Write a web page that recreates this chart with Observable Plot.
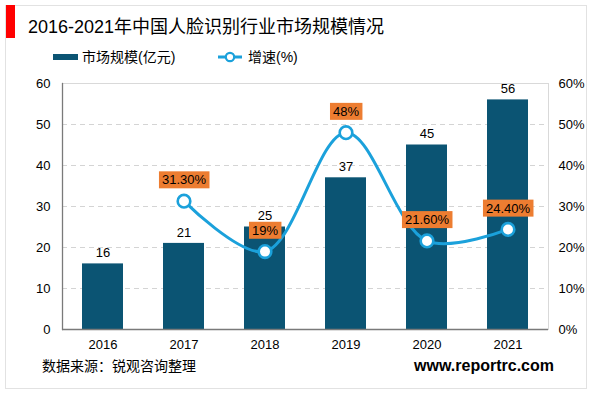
<!DOCTYPE html>
<html><head><meta charset="utf-8">
<script src="https://cdn.jsdelivr.net/npm/d3@7"></script>
<script src="https://cdn.jsdelivr.net/npm/@observablehq/plot@0.6"></script>
<style>
body{margin:0;background:#fff;font-family:"Liberation Sans","Noto Sans CJK SC",sans-serif;}
#wrap{position:relative;width:600px;height:393px;overflow:hidden;background:#fff;}
#frame{position:absolute;left:5px;top:5px;width:582px;height:384px;border:1px solid #e2e2e2;box-sizing:border-box;}
#redbar{position:absolute;left:6px;top:5px;width:9px;height:33px;background:#ff0000;}
#title{position:absolute;left:28px;top:15px;font-size:18px;line-height:24px;color:#000;white-space:nowrap;}
.leg{position:absolute;top:48px;font-size:14px;line-height:18px;color:#000;white-space:nowrap;}
#chart{position:absolute;left:0;top:0;}
#src{position:absolute;left:42px;top:356px;font-size:14px;line-height:20px;color:#000;}
#url{position:absolute;right:46px;top:355px;font-size:16px;line-height:21px;font-weight:bold;color:#000;}
</style></head>
<body>
<div id="wrap">
  <div id="frame"></div>
  <div id="redbar"></div>
  <div id="title"></div>
  <div id="chart"></div>
  <div class="leg" id="leg1" style="left:53px;"></div>
  <div class="leg" id="leg2" style="left:217px;"></div>
  <div id="src"></div>
  <div id="url"></div>
</div>
<script>
const titleText = "2016-2021年中国人脸识别行业市场规模情况";
const years = ["2016", "2017", "2018", "2019", "2020", "2021"];
const marketSize = [16, 21, 25, 37, 45, 56];
const growthYears = ["2017", "2018", "2019", "2020", "2021"];
const growthPct = [31.3, 19, 48, 21.6, 24.4];
const growthLabels = ["31.30%", "19%", "48%", "21.60%", "24.40%"];
const seriesNames = ["市场规模(亿元)", "增速(%)"];
const yTicks = [0, 10, 20, 30, 40, 50, 60];
const sourceText = "数据来源：锐观咨询整理";
const urlText = "www.reportrc.com";

const barColor = "#0B5473";
const lineColor = "#1BA1DB";
const labelBg = "#ED7D31";

document.getElementById("title").textContent = titleText;
document.getElementById("src").textContent = sourceText;
document.getElementById("url").textContent = urlText;
document.getElementById("leg1").innerHTML =
  `<span style="display:inline-block;width:25px;height:6px;background:${barColor};vertical-align:middle;margin-right:4px;position:relative;top:-1px"></span>${seriesNames[0]}`;
document.getElementById("leg2").innerHTML =
  `<svg width="26" height="12" style="vertical-align:middle;margin-right:5px;position:relative;top:-1px"><line x1="1" y1="6" x2="25" y2="6" stroke="${lineColor}" stroke-width="3"/><circle cx="13" cy="6" r="4.2" fill="#fff" stroke="${lineColor}" stroke-width="2.2"/></svg>${seriesNames[1]}`;

const bars = years.map((y, i) => ({year: y, value: marketSize[i]}));
const growth = growthYears.map((y, i) => ({year: y, pct: growthPct[i], label: growthLabels[i]}));

const chart = Plot.plot({
  width: 600,
  height: 360,
  marginTop: 83,
  marginBottom: 31,
  marginLeft: 62,
  marginRight: 52,
  style: {fontFamily: '"Liberation Sans","Noto Sans CJK SC",sans-serif', fontSize: "13px", color: "#000", background: "transparent"},
  x: {domain: years, paddingInner: 0.5, paddingOuter: 0.25, label: null},
  y: {domain: [0, 60], label: null},
  marks: [
    Plot.ruleY(yTicks.filter(d => d > 0 && d < 60), {stroke: "#d4d4d4", strokeDasharray: "5,4", strokeWidth: 1}),
    Plot.ruleY([60], {stroke: "#d9d9d9", strokeWidth: 1}),
    Plot.frame({anchor: "right", stroke: "#d9d9d9"}),
    Plot.barY(bars, {x: "year", y: "value", fill: barColor}),
    Plot.text(bars, {x: "year", y: "value", text: d => String(d.value), dy: -11, fontSize: 13, fill: "#000"}),
    Plot.frame({anchor: "left", stroke: "#7a7a7a", strokeWidth: 1.3}),
    Plot.ruleY([0], {stroke: "#7a7a7a", strokeWidth: 1.3}),
    Plot.lineY(growth, {x: "year", y: "pct", stroke: lineColor, strokeWidth: 3, curve: "catmull-rom"}),
    Plot.dot(growth, {x: "year", y: "pct", r: 6.3, fill: "#fff", stroke: lineColor, strokeWidth: 2.6}),
    Plot.text(growth, {x: "year", y: "pct", text: "label", dy: -21, fontSize: 13, fill: "#000", className: "pctlbl"}),
    Plot.axisY(yTicks, {anchor: "left", tickSize: 0, tickPadding: 12, fontSize: 13, label: null}),
    Plot.axisY(yTicks, {anchor: "right", tickSize: 0, tickPadding: 10, fontSize: 13, tickFormat: d => d + "%", label: null}),
    Plot.axisX({tickSize: 0, tickPadding: 10, fontSize: 13, label: null})
  ]
});
document.getElementById("chart").append(chart);

// orange background boxes behind percentage labels
d3.select(chart).selectAll("g.pctlbl text").each(function() {
  const b = this.getBBox();
  const parent = this.parentNode;
  const rect = document.createElementNS("http://www.w3.org/2000/svg", "rect");
  rect.setAttribute("x", b.x - 3);
  rect.setAttribute("y", b.y - 1);
  rect.setAttribute("width", b.width + 6);
  rect.setAttribute("height", b.height + 2);
  rect.setAttribute("fill", labelBg);
  const t = this.getAttribute("transform");
  if (t) rect.setAttribute("transform", t);
  parent.insertBefore(rect, this);
});
</script>
</body></html>
